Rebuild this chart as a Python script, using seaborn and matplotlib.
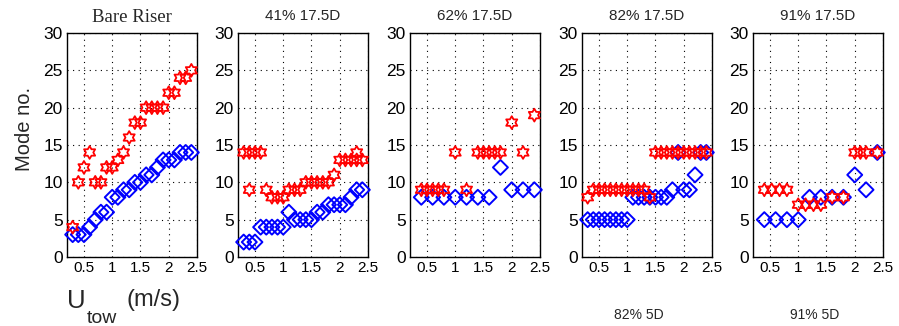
import numpy as np
import pandas as pd
import matplotlib
matplotlib.use("Agg")
import matplotlib.pyplot as plt
from matplotlib.path import Path
import seaborn as sns

# ---- data: tow speed (m/s) and identified mode number per configuration ----
panel_titles = ["Bare Riser", "41% 17.5D", "62% 17.5D", "82% 17.5D", "91% 17.5D"]

# Bare riser
bare_star_u = [0.3, 0.4, 0.5, 0.6, 0.7, 0.8, 0.9, 1.0, 1.1, 1.2, 1.3,
               1.4, 1.5, 1.6, 1.7, 1.8, 1.9, 2.0, 2.1, 2.2, 2.3, 2.4]
bare_star_mode = [4, 10, 12, 14, 10, 10, 12, 12, 13, 14, 16,
                  18, 18, 20, 20, 20, 20, 22, 22, 24, 24, 25]
bare_diam_u = [0.3, 0.4, 0.5, 0.6, 0.7, 0.8, 0.9, 1.0, 1.1, 1.2, 1.3,
               1.4, 1.5, 1.6, 1.7, 1.8, 1.9, 2.0, 2.1, 2.2, 2.3, 2.4]
bare_diam_mode = [3, 3, 3, 4, 5, 6, 6, 8, 8, 9, 9,
                  10, 10, 11, 11, 12, 13, 13, 13, 14, 14, 14]

# 41% coverage, 17.5D pitch
c41_star_u = [0.3, 0.4, 0.5, 0.6, 0.4, 0.7, 0.8, 0.9, 1.0, 1.1, 1.2, 1.3,
              1.4, 1.5, 1.6, 1.7, 1.8, 1.9, 2.0, 2.1, 2.2, 2.3, 2.4, 2.3]
c41_star_mode = [14, 14, 14, 14, 9, 9, 8, 8, 8, 9, 9, 9,
                 10, 10, 10, 10, 10, 11, 13, 13, 13, 13, 13, 14]
c41_diam_u = [0.3, 0.4, 0.5, 0.6, 0.7, 0.8, 0.9, 1.0, 1.1, 1.2, 1.3,
              1.4, 1.5, 1.6, 1.7, 1.8, 1.9, 2.0, 2.1, 2.2, 2.3, 2.4]
c41_diam_mode = [2, 2, 2, 4, 4, 4, 4, 4, 6, 5, 5,
                 5, 5, 6, 6, 7, 7, 7, 7, 8, 9, 9]

# 62% coverage, 17.5D pitch
c62_star_u = [0.4, 0.5, 0.6, 0.7, 0.8, 1.0, 1.2, 1.4, 1.5, 1.6, 1.7, 1.8, 2.0, 2.2, 2.4]
c62_star_mode = [9, 9, 9, 9, 9, 14, 9, 14, 14, 14, 14, 14, 18, 14, 19]
c62_diam_u = [0.4, 0.6, 0.8, 1.0, 1.2, 1.4, 1.6, 1.8, 2.0, 2.2, 2.4]
c62_diam_mode = [8, 8, 8, 8, 8, 8, 8, 12, 9, 9, 9]

# 82% coverage, 17.5D pitch
c82_star_u = [0.3, 0.4, 0.5, 0.6, 0.7, 0.8, 0.9, 1.0, 1.1, 1.2, 1.3, 1.4,
              1.5, 1.6, 1.7, 1.8, 1.9, 2.0, 2.1, 2.2, 2.3, 2.4]
c82_star_mode = [8, 9, 9, 9, 9, 9, 9, 9, 9, 9, 9, 8,
                 14, 14, 14, 14, 14, 14, 14, 14, 14, 14]
c82_diam_u = [0.3, 0.4, 0.5, 0.6, 0.7, 0.8, 0.9, 1.0,
              1.1, 1.2, 1.3, 1.4, 1.5, 1.6, 1.7,
              1.8, 1.9, 2.0, 2.1, 2.2, 2.3, 2.4]
c82_diam_mode = [5, 5, 5, 5, 5, 5, 5, 5,
                 8, 8, 8, 8, 8, 8, 8,
                 9, 14, 9, 9, 11, 14, 14]

# 91% coverage, 17.5D pitch
c91_star_u = [0.4, 0.53, 0.67, 0.8, 1.0, 1.13, 1.27, 1.4, 1.6, 1.8, 2.0, 2.1, 2.2, 2.4]
c91_star_mode = [9, 9, 9, 9, 7, 7, 7, 7, 8, 8, 14, 14, 14, 14]
c91_diam_u = [0.4, 0.6, 0.8, 1.0, 1.2, 1.4, 1.6, 1.8, 2.0, 2.2, 2.4]
c91_diam_mode = [5, 5, 5, 5, 8, 8, 8, 8, 11, 9, 14]

star_sets = [(bare_star_u, bare_star_mode), (c41_star_u, c41_star_mode),
             (c62_star_u, c62_star_mode), (c82_star_u, c82_star_mode),
             (c91_star_u, c91_star_mode)]
diam_sets = [(bare_diam_u, bare_diam_mode), (c41_diam_u, c41_diam_mode),
             (c62_diam_u, c62_diam_mode), (c82_diam_u, c82_diam_mode),
             (c91_diam_u, c91_diam_mode)]

x_ticks = [0.5, 1, 1.5, 2, 2.5]
x_tick_labels = ["0.5", "1", "1.5", "2", "2.5"]
y_ticks = [0, 5, 10, 15, 20, 25, 30]

# ---- styling ----
sns.set_style("white")
plt.rcParams["font.family"] = ["Liberation Sans", "DejaVu Sans"]

W, H = 899, 326
fig = plt.figure(figsize=(W / 100, H / 100), dpi=100)

# six-pointed star (hexagram) outline marker
hexagram = Path.unit_regular_star(6, 0.577)

panel_left_px = [67, 238, 410, 582, 753]
ax_w_px = 130
ax_top_px, ax_bot_px = 33, 257

for i, left in enumerate(panel_left_px):
    ax = fig.add_axes([left / W, 1 - ax_bot_px / H, ax_w_px / W,
                       (ax_bot_px - ax_top_px) / H])
    su, sm = star_sets[i]
    du, dm = diam_sets[i]
    sns.scatterplot(x=du, y=dm, marker="D", s=58, facecolor="none",
                    edgecolor="#0000ff", linewidth=1.4, ax=ax, zorder=3,
                    clip_on=False)
    sns.scatterplot(x=su, y=sm, marker=hexagram, s=85, facecolor="none",
                    edgecolor="#ff0000", linewidth=1.3, ax=ax, zorder=4,
                    clip_on=False)
    ax.set_xlim(0.2, 2.5)
    ax.set_ylim(0, 30)
    ax.set_xticks(x_ticks)
    ax.set_xticklabels(x_tick_labels, fontsize=11)
    ax.set_yticks(y_ticks)
    ax.set_yticklabels([str(t) for t in y_ticks], fontsize=12.5)
    ax.tick_params(direction="in", length=3, width=0.8, pad=3, colors="black")
    ax.grid(True, color="black", linestyle=(0, (1, 4)), linewidth=0.8)
    ax.set_axisbelow(True)
    for sp in ax.spines.values():
        sp.set_color("black")
        sp.set_linewidth(1.0)
    ax.set_xlabel("")
    ax.set_ylabel("")
    if i == 0:
        ax.set_title(panel_titles[i], fontsize=13.5, pad=8,
                     family=["Liberation Serif", "DejaVu Serif"])
    else:
        ax.set_title(panel_titles[i], fontsize=11, pad=9)

# shared axis labels
fig.text(25 / W, 1 - 129 / H, "Mode no.", rotation=90, fontsize=14.5,
         ha="center", va="center")
fig.text(67 / W, 1 - 308 / H, "U", fontsize=18.5, ha="left", va="baseline")
fig.text(87 / W, 1 - 323 / H, "tow", fontsize=14, ha="left", va="baseline")
fig.text(126 / W, 1 - 306 / H, "(m/s)", fontsize=17, ha="left", va="baseline")

# headings of the lower row of panels
fig.text(639 / W, 1 - 315 / H, "82% 5D", fontsize=10, ha="center", va="center")
fig.text(815 / W, 1 - 315 / H, "91% 5D", fontsize=10, ha="center", va="center")

fig.savefig("out.png", dpi=100, facecolor="white")
